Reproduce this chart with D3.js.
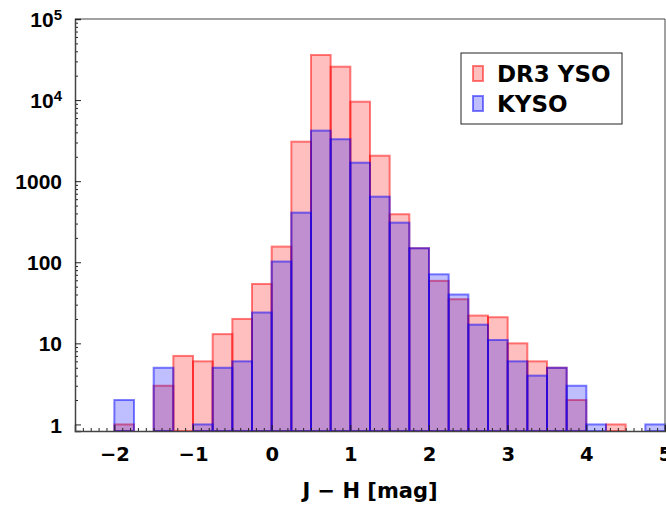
<!DOCTYPE html>
<html>
<head>
<meta charset="utf-8">
<script src="https://cdn.jsdelivr.net/npm/d3@7"></script>
<style>
  body { margin: 0; background: #fff; }
  svg { font-family: "DejaVu Sans", sans-serif; font-weight: bold; }
</style>
</head>
<body>
<div id="chart"></div>
<script>
// histogram bins (left edge, width 0.25 mag)
const binLeft = [-2, -1.75, -1.5, -1.25, -1, -0.75, -0.5, -0.25, 0, 0.25, 0.5, 0.75, 1, 1.25,
                 1.5, 1.75, 2, 2.25, 2.5, 2.75, 3, 3.25, 3.5, 3.75, 4, 4.25, 4.5, 4.75];
const binWidth = 0.25;
const dr3 = [1, 0, 3, 7, 6, 13, 20, 54, 156, 3070, 36000, 25800, 9550, 2060,
             391, 149, 59, 35, 22, 21, 10, 6, 5, 2, 0, 1, 0, 0];
const kyso = [2, 0, 5, 0, 1, 5, 6, 24, 102, 409, 4200, 3290, 1690, 644,
              308, 149, 71, 40, 17, 11, 6, 4, 5, 3, 1, 0, 0, 1];
const seriesNames = ["DR3 YSO", "KYSO"];
const xTicks = [-2, -1, 0, 1, 2, 3, 4, 5];
const yTicks = [1, 10, 100, 1000, 1e4, 1e5];

const width = 666, height = 506;
const margin = { top: 19, right: 1, bottom: 75, left: 75 };

const svg = d3.select("#chart").append("svg")
  .attr("width", width).attr("height", height);

const x = d3.scaleLinear().domain([-2.5, 5]).range([margin.left, width - margin.right]);
const y = d3.scaleLog().domain([0.83, 1e5]).range([height - margin.bottom, margin.top]);

const styles = [
  { fill: "rgba(255,0,0,0.25)", stroke: "rgba(255,0,0,0.5)" },
  { fill: "rgba(0,0,255,0.25)", stroke: "rgba(0,0,255,0.5)" }
];

[dr3, kyso].forEach((counts, s) => {
  const data = binLeft.map((b, i) => ({ b, v: counts[i] })).filter(d => d.v > 0);
  svg.append("g").selectAll("rect")
    .data(data)
    .enter()
    .append("rect")
    .attr("x", d => x(d.b))
    .attr("width", d => x(d.b + binWidth) - x(d.b))
    .attr("y", d => y(d.v))
    .attr("height", d => y.range()[0] - y(d.v))
    .attr("fill", styles[s].fill)
    .attr("stroke", styles[s].stroke)
    .attr("stroke-width", 2);
});

// frame
const x0 = x.range()[0], x1 = x.range()[1], yb = y.range()[0], yt = y.range()[1];
svg.append("path")
  .attr("d", `M${x0},${yt}H${x1}V${yb}`)
  .attr("fill", "none").attr("stroke", "#444").attr("stroke-width", 1);

// x axis
const minorX = d3.range(-25, 51).map(k => k / 10).filter(v => !xTicks.includes(v));
svg.append("g")
  .attr("transform", `translate(0,${yb})`)
  .call(d3.axisBottom(x).tickValues(minorX).tickSize(-3).tickFormat(""))
  .call(g => g.select(".domain").remove())
  .selectAll("line").attr("stroke", "#222");

const xAxis = svg.append("g")
  .attr("transform", `translate(0,${yb})`)
  .call(d3.axisBottom(x).tickValues(xTicks).tickSize(-6).tickPadding(16)
    .tickFormat(d => d < 0 ? "\u2212" + Math.abs(d) : d));
xAxis.select(".domain").attr("stroke", "#444").attr("stroke-width", 1.5);
xAxis.selectAll("line").attr("stroke", "#222");
xAxis.selectAll("text").attr("font-size", 19.5).attr("fill", "#000")
  .attr("font-family", "DejaVu Sans").attr("font-weight", "bold");

// y axis
const minorY = [];
[1, 10, 100, 1000, 1e4].forEach(dec => { for (let k = 2; k <= 9; k++) minorY.push(dec * k); });
svg.append("g")
  .attr("transform", `translate(${x0},0)`)
  .call(d3.axisLeft(y).tickValues(minorY).tickSize(-3).tickFormat(""))
  .call(g => g.select(".domain").remove())
  .selectAll("line").attr("stroke", "#222");

const yAxis = svg.append("g")
  .attr("transform", `translate(${x0},0)`)
  .call(d3.axisLeft(y).tickValues(yTicks).tickSize(-6).tickFormat(""));
yAxis.select(".domain").attr("stroke", "#444").attr("stroke-width", 1.5);
yAxis.selectAll("line").attr("stroke", "#222");
yAxis.selectAll(".tick").append("text")
  .attr("x", -13).attr("dy", "0.36em")
  .attr("text-anchor", "end")
  .attr("fill", "#000")
  .attr("font-size", 21)
  .each(function(d) {
    const t = d3.select(this);
    if (d >= 1e4) {
      t.append("tspan").text("10");
      t.append("tspan").attr("dy", "-0.45em").attr("font-size", 15).text(Math.round(Math.log10(d)));
    } else {
      t.text(d);
    }
  });

// x title
svg.append("text")
  .attr("x", (x0 + x1) / 2).attr("y", 498)
  .attr("text-anchor", "middle").attr("font-size", 21)
  .text("J \u2212 H  [mag]");

// legend
const leg = svg.append("g");
leg.append("rect").attr("x", 461).attr("y", 53).attr("width", 161).attr("height", 71)
  .attr("fill", "#fff").attr("stroke", "#222").attr("stroke-width", 1);
seriesNames.forEach((name, i) => {
  leg.append("rect").attr("x", 473).attr("y", 66 + i * 30).attr("width", 10).attr("height", 15)
    .attr("fill", styles[i].fill).attr("stroke", styles[i].stroke).attr("stroke-width", 2);
  leg.append("text").attr("x", 497).attr("y", 82 + i * 29.5)
    .attr("font-size", 23).text(name);
});
</script>
</body>
</html>
